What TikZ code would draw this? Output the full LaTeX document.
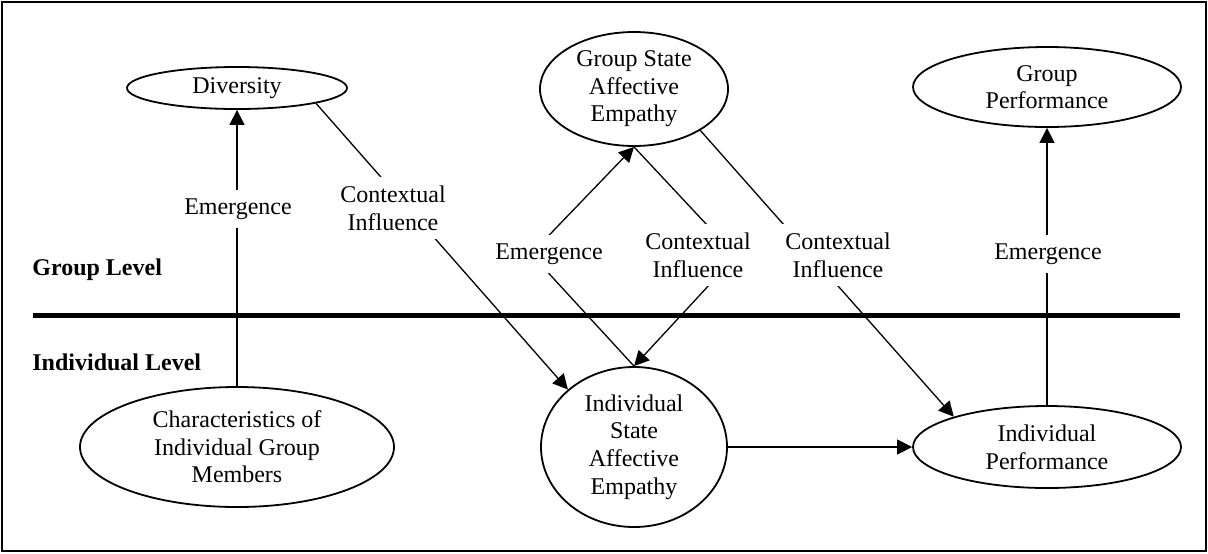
\documentclass[tikz,border=0pt]{standalone}
\usepackage{fontspec}
\setmainfont{Liberation Serif}
\usetikzlibrary{shapes.geometric,arrows.meta}
\begin{document}
\begin{tikzpicture}[x=0.5pt,y=-0.5pt,
  every node/.style={font=\fontsize{12}{13.8}\selectfont},
  construct/.style={draw, ellipse, line width=0.9pt, inner sep=0pt, align=center},
  link/.style={line width=0.65pt},
  arr/.style={link, -{Triangle[length=7.5pt,width=7.5pt]}},
  lbl/.style={fill=white, align=center, inner xsep=2pt, inner ysep=4.5pt},
  level/.style={font=\fontsize{12}{13.8}\selectfont\bfseries, anchor=base west, inner sep=0pt}
]
\useasboundingbox (0,0) rectangle (1208,553);
\draw[line width=0.6pt] (2,2) rectangle (1206,551);

% constructs
\node[construct, minimum width=110pt, minimum height=21pt] (div) at (237,88) {Diversity};
\node[construct, minimum width=94pt, minimum height=57pt] (gsae) at (634,89) {Group State\\Affective\\Empathy};
\node[construct, minimum width=134pt, minimum height=40pt] (gp) at (1047,87) {Group\\Performance};
\node[construct, minimum width=157pt, minimum height=60pt] (chars) at (237,447) {Characteristics of\\Individual Group\\Members};
\node[construct, minimum width=93pt, minimum height=80pt] (isae) at (634,447) {Individual\\State\\Affective\\Empathy};
\node[construct, minimum width=134pt, minimum height=41pt] (ip) at (1047,447) {Individual\\Performance};

% level divider and level names
\draw[line width=2.5pt] (33,315) -- (1180,315);
\node[level] (glvl) at (32,275) {Group Level};
\node[level] (ilvl) at (32,370) {Individual Level};

% bend points of the two cross-level paths
\coordinate (v2) at (531,254);
\coordinate (v3) at (736,256);

% connectors
\draw[arr] (chars.north) -- (div.south);
\draw[arr] (div.-11) -- (isae.139);
\draw[arr] (isae.north) -- (v2) -- (gsae.south);
\draw[arr] (gsae.south) -- (v3) -- (isae.north);
\draw[arr] (gsae.-32) -- (ip.162.5);
\draw[arr] (isae.east) -- (ip.west);
\draw[arr] (ip.north) -- (gp.south);

% connector labels
\node[lbl] (em1) at (238,209) {Emergence};
\node[lbl] (ci1) at (393,208) {Contextual\\Influence};
\node[lbl] (em2) at (549,254) {Emergence};
\node[lbl] (ci2) at (698,255) {Contextual\\Influence};
\node[lbl] (ci3) at (838,255) {Contextual\\Influence};
\node[lbl] (em3) at (1048,254) {Emergence};
\end{tikzpicture}
\end{document}
